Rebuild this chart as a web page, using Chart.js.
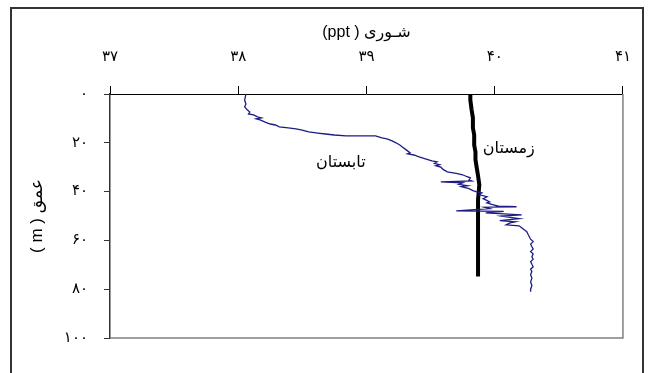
<!DOCTYPE html>
<html>
<head>
<meta charset="utf-8">
<script src="https://cdn.jsdelivr.net/npm/chart.js@4/dist/chart.umd.min.js"></script>
<style>
  html, body { margin: 0; padding: 0; background: #fff; }
  #wrap { position: relative; width: 651px; height: 373px; overflow: hidden; }
  #frame { position: absolute; left: 10px; top: 7px; width: 634px; height: 420px;
           border: 2px solid #333; box-sizing: border-box; }
  #c { position: absolute; left: 0; top: 0; }
</style>
</head>
<body>
<div id="wrap">
  <div id="frame"></div>
  <canvas id="c" width="651" height="373"></canvas>
</div>
<script>
// Salinity (ppt) profiles against depth (m)
const xTickValues = [37, 38, 39, 40, 41];
const xTickLabels = ['۳۷', '۳۸', '۳۹', '۴۰', '۴۱'];
const yTickValues = [0, 20, 40, 60, 80, 100];
const yTickLabels = ['۰', '۲۰', '۴۰', '۶۰', '۸۰', '۱۰۰'];
const xTitle = '(ppt ) شـوری';
const yTitle = '( m ) عمق';

// Summer profile (تابستان)
const summerDepth = [
  0, 2.5, 4.1, 5.3, 6.5, 7.4, 8.2, 8.6, 9.4, 9.8, 10.2, 10.6, 11.5, 12.3, 12.7,
  13.5, 13.9, 14.3, 14.7, 15.5, 16.0, 16.4, 16.8, 17.2, 17.2, 17.2, 18.0, 18.4,
  19.2, 20.0, 20.9, 21.7, 22.9, 24.1, 24.5, 25.0, 25.8, 26.6, 27.4, 27.8, 28.4,
  29.0, 29.4, 30.0, 31.0, 31.9, 32.5, 33.1, 33.8, 34.4, 35.2, 35.6, 36.0, 36.2,
  36.4, 37.0, 37.6, 38.0, 38.8, 39.6, 40.1, 40.5, 41.3, 42.1, 42.9, 43.4, 44.2,
  44.6, 45.4, 46.0, 46.2, 46.4, 47.0, 47.9, 48.1, 48.7, 49.5, 50.0, 50.3, 51.1,
  51.9, 52.4, 52.8, 53.6, 54.0, 54.8, 55.6, 56.4, 57.5, 58.5, 59.5, 60.5, 61.5,
  62.6, 63.5, 64.6, 65.5, 66.7, 67.7, 68.7, 69.8, 70.8, 71.8, 72.8, 74.0, 75.5,
  77.0, 78.5, 80.0, 81.0
];
const summerSalinity = [
  38.06, 38.05, 38.06, 38.05, 38.07, 38.09, 38.08, 38.12, 38.15, 38.18, 38.14, 38.17, 38.21, 38.25, 38.29,
  38.32, 38.39, 38.45, 38.49, 38.55, 38.62, 38.68, 38.75, 38.84, 38.97, 39.07, 39.12, 39.16,
  39.20, 39.23, 39.26, 39.28, 39.31, 39.34, 39.32, 39.37, 39.41, 39.46, 39.51, 39.55, 39.53,
  39.57, 39.54, 39.58, 39.60, 39.63, 39.70, 39.75, 39.78, 39.81, 39.80, 39.82, 39.58, 39.66,
  39.75, 39.72, 39.79, 39.74, 39.80, 39.83, 39.86, 39.90, 39.88, 39.94, 39.91, 39.93, 39.96,
  39.94, 39.99, 40.03, 40.17, 39.92, 39.96, 39.70, 40.07, 39.93, 40.21, 40.05, 40.08, 40.19,
  40.04, 40.16, 40.12, 40.09, 40.19, 40.21, 40.23, 40.25, 40.26, 40.27, 40.28, 40.30, 40.28,
  40.29, 40.30, 40.28, 40.30, 40.29, 40.30, 40.28, 40.29, 40.30, 40.28, 40.29, 40.28, 40.29,
  40.28, 40.29, 40.28, 40.28
];

// Winter profile (زمستان)
const winterDepth = [0, 2.5, 6.5, 9.8, 13.9, 16.8, 20.9, 23.7, 27.0, 30.3, 33.5, 37.2, 43.4, 59.7, 74.8];
const winterSalinity = [39.81, 39.81, 39.82, 39.83, 39.83, 39.84, 39.84, 39.85, 39.85, 39.86, 39.87, 39.88, 39.87, 39.87, 39.87];

// In-plot series names, anchored in data space
const seriesNames = ['تابستان', 'زمستان'];
const nameSalinity = [38.80, 40.11];
const nameDepth = [28.2, 22.5];

const toPoints = (xs, ys) => xs.map((v, i) => ({ x: v, y: ys[i] }));

const FONT = "'Liberation Sans', 'DejaVu Sans', sans-serif";

const areaExtras = {
  id: 'areaExtras',
  afterDatasetsDraw(chart) {
    const { ctx, chartArea: a, scales: { x, y } } = chart;
    ctx.save();
    ctx.strokeStyle = '#808080';
    ctx.lineWidth = 1.5;
    ctx.beginPath();
    ctx.moveTo(a.right, a.top);
    ctx.lineTo(a.right, a.bottom);
    ctx.lineTo(a.left, a.bottom);
    ctx.stroke();
    ctx.fillStyle = '#000';
    ctx.font = "16px 'DejaVu Sans', sans-serif";
    ctx.textAlign = 'center';
    ctx.textBaseline = 'middle';
    seriesNames.forEach((n, i) => {
      ctx.fillText(n, x.getPixelForValue(nameSalinity[i]), y.getPixelForValue(nameDepth[i]));
    });
    ctx.restore();
  }
};

new Chart(document.getElementById('c'), {
  type: 'scatter',
  data: {
    datasets: [
      {
        label: seriesNames[0],
        data: toPoints(summerSalinity, summerDepth),
        showLine: true,
        borderColor: '#1c1c86',
        borderWidth: 1.3,
        pointRadius: 0,
        tension: 0
      },
      {
        label: seriesNames[1],
        data: toPoints(winterSalinity, winterDepth),
        showLine: true,
        borderColor: '#000',
        borderWidth: 4,
        pointRadius: 0,
        tension: 0
      }
    ]
  },
  plugins: [areaExtras],
  options: {
    responsive: false,
    animation: false,
    devicePixelRatio: 1,
    layout: { padding: { top: 0, left: 0, right: 24, bottom: 35 } },
    plugins: { legend: { display: false }, tooltip: { enabled: false } },
    scales: {
      x: {
        type: 'linear',
        position: 'top',
        min: 37, max: 41,
        afterFit: s => { s.height = 94; },
        ticks: {
          stepSize: 1,
          padding: 20,
          color: '#000',
          font: { family: "'DejaVu Sans', sans-serif", size: 15 },
          callback: v => xTickLabels[xTickValues.indexOf(v)]
        },
        grid: { drawOnChartArea: false, tickLength: 8, color: '#000', tickColor: '#000' },
        border: { color: '#000', width: 1 },
        title: {
          display: true,
          text: xTitle,
          color: '#000',
          font: { family: FONT, size: 16 },
          padding: { top: 23, bottom: 0 }
        }
      },
      y: {
        type: 'linear',
        reverse: true,
        min: 0, max: 100,
        afterFit: s => { s.width = 110; },
        ticks: {
          stepSize: 20,
          padding: 16,
          color: '#000',
          font: { family: "'DejaVu Sans', sans-serif", size: 15 },
          callback: v => yTickLabels[yTickValues.indexOf(v)]
        },
        grid: { drawOnChartArea: false, tickLength: 6, color: '#333', tickColor: '#333' },
        border: { color: '#333', width: 1.5 },
        title: {
          display: true,
          text: yTitle,
          color: '#000',
          font: { family: FONT, size: 17 },
          padding: { top: 27, bottom: 0 }
        }
      }
    }
  }
});
</script>
</body>
</html>
